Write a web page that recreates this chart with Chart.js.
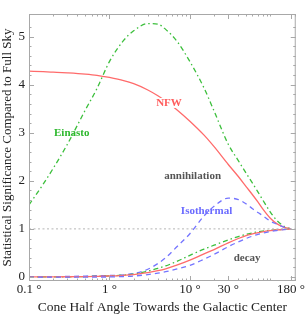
<!DOCTYPE html>
<html>
<head>
<meta charset="utf-8">
<script src="https://cdn.jsdelivr.net/npm/chart.js@4.4.1/dist/chart.umd.min.js"></script>
<style>
  body { margin: 0; background: #fff; }
  canvas { display: block; }
</style>
</head>
<body>
<canvas id="sigChart" width="306" height="317"></canvas>
<script>
// cone half angle (degrees) and significance relative to full sky
const angles = [0.1, 0.15, 0.2, 0.3, 0.5, 0.7, 1, 1.5, 2, 3, 4, 5, 7, 10, 15, 20, 30, 40, 50, 60, 70, 80, 100, 120, 150, 180];

const nfwAnnihilation = [4.28, 4.27, 4.26, 4.245, 4.22, 4.195, 4.15, 4.085, 4.02, 3.89, 3.77, 3.66, 3.47, 3.24, 2.95, 2.71, 2.34, 2.09, 1.88, 1.71, 1.56, 1.42, 1.22, 1.11, 1.03, 1.00];
const einastoAnnihilation = [1.50, 1.93, 2.26, 2.76, 3.47, 3.92, 4.48, 4.92, 5.12, 5.27, 5.26, 5.15, 4.89, 4.48, 3.93, 3.45, 2.76, 2.42, 2.16, 1.95, 1.77, 1.61, 1.35, 1.18, 1.05, 1.00];
const isothermalAnnihilation = [0.0, 0.003, 0.006, 0.01, 0.018, 0.026, 0.03, 0.045, 0.07, 0.16, 0.28, 0.40, 0.64, 0.90, 1.27, 1.47, 1.64, 1.61, 1.52, 1.42, 1.34, 1.28, 1.16, 1.10, 1.03, 1.00];

const nfwDecay = [0, 0.001, 0.002, 0.004, 0.008, 0.012, 0.02, 0.035, 0.05, 0.09, 0.13, 0.17, 0.25, 0.35, 0.48, 0.57, 0.71, 0.80, 0.86, 0.895, 0.92, 0.94, 0.963, 0.977, 0.99, 1.0];
const einastoDecay = [0, 0.001, 0.002, 0.004, 0.008, 0.013, 0.022, 0.04, 0.06, 0.12, 0.18, 0.23, 0.33, 0.45, 0.58, 0.66, 0.77, 0.84, 0.885, 0.915, 0.94, 0.955, 0.97, 0.98, 0.99, 1.0];
const isothermalDecay = [-0.005, -0.005, -0.005, -0.004, -0.003, -0.002, 0.0, 0.01, 0.02, 0.05, 0.08, 0.11, 0.17, 0.24, 0.37, 0.47, 0.63, 0.73, 0.80, 0.85, 0.885, 0.91, 0.945, 0.965, 0.985, 1.0];

const fullSkyLevel = 1;

const xTicks = [0.1, 1, 10, 30, 180];
const xTickLabels = ["0.1 °", "1 °", "10 °", "30 °", "180 °"];
const yTicks = [0, 1, 2, 3, 4, 5];

// text labels placed in data coordinates
const noteTexts = ["NFW", "Einasto", "annihilation", "Isothermal", "decay"];
const noteAngles = [5.5, 0.34, 10.8, 16.1, 51.5];
const noteValues = [3.62, 2.99, 2.09, 1.36, 0.40];
const noteColors = ["#ff5c5c", "#2db82d", "#555555", "#6b6bff", "#555555"];

const red = "#ff6b6b", green = "#3cbf3c", blue = "#7474ff";
const xMin = 0.1, xMax = 207, yMin = -0.084, yMax = 5.47;

function series(vals) {
  return angles.map((a, i) => ({x: a, y: vals[i]}));
}

function line(label, vals, color, dash) {
  return {
    label: label,
    data: series(vals),
    borderColor: color,
    borderWidth: 1.3,
    borderDash: dash,
    pointRadius: 0,
    cubicInterpolationMode: "monotone",
    fill: false
  };
}

const dashDot = [5, 3, 1.5, 3];
const dashed = [5, 4];

// frame with inward ticks on all four sides, and the curve labels
const framePlugin = {
  id: "framePlugin",
  afterDatasetsDraw(chart) {
    const ctx = chart.ctx, a = chart.chartArea;
    const xs = chart.scales.x, ys = chart.scales.y;
    ctx.save();
    ctx.strokeStyle = "#a8a8a8";
    ctx.lineWidth = 1;
    ctx.strokeRect(a.left + 0.5, a.top + 0.5, a.right - a.left - 1, a.bottom - a.top - 1);

    const xMinor = [];
    [0.1, 1, 10, 100].forEach(d => { for (let k = 1; k < 10; k++) xMinor.push(d * k); });
    ctx.beginPath();
    xMinor.forEach(v => {
      if (v < xMin || v > xMax) return;
      const len = xTicks.includes(v) ? 5 : 2.5;
      const px = Math.round(xs.getPixelForValue(v)) + 0.5;
      ctx.moveTo(px, a.bottom); ctx.lineTo(px, a.bottom - len);
      ctx.moveTo(px, a.top); ctx.lineTo(px, a.top + len);
    });
    xTicks.forEach(v => {
      const px = Math.round(xs.getPixelForValue(v)) + 0.5;
      ctx.moveTo(px, a.bottom); ctx.lineTo(px, a.bottom - 5);
      ctx.moveTo(px, a.top); ctx.lineTo(px, a.top + 5);
    });
    for (let v = 0; v <= 5.4; v += 0.2) {
      const major = Math.abs(v - Math.round(v)) < 1e-6;
      const len = major ? 5 : 2.5;
      const py = Math.round(ys.getPixelForValue(v)) + 0.5;
      ctx.moveTo(a.left, py); ctx.lineTo(a.left + len, py);
      ctx.moveTo(a.right, py); ctx.lineTo(a.right - len, py);
    }
    ctx.stroke();

    ctx.font = "bold 11px 'Liberation Serif'";
    ctx.textAlign = "center";
    ctx.textBaseline = "middle";
    noteTexts.forEach((t, i) => {
      const px = xs.getPixelForValue(noteAngles[i]);
      const py = ys.getPixelForValue(noteValues[i]);
      if (t === "NFW") {
        ctx.fillStyle = "#fff";
        const w = ctx.measureText(t).width;
        ctx.fillRect(px - w / 2 - 1, py - 5, w + 2, 10);
      }
      ctx.fillStyle = noteColors[i];
      ctx.fillText(t, px, py);
    });
    ctx.restore();
  }
};

const chartData = {
  type: "line",
  data: {
    datasets: [
      {
        label: "full sky",
        data: [{x: xMin, y: fullSkyLevel}, {x: xMax, y: fullSkyLevel}],
        borderColor: "#b5b5b5",
        borderWidth: 1,
        borderDash: [2, 2.5],
        pointRadius: 0
      },
      line("Isothermal decay", isothermalDecay, blue, dashed),
      line("NFW decay", nfwDecay, red, []),
      line("Einasto decay", einastoDecay, green, dashDot),
      line("Isothermal", isothermalAnnihilation, blue, dashed),
      line("NFW", nfwAnnihilation, red, []),
      line("Einasto", einastoAnnihilation, green, dashDot)
    ]
  },
  options: {
    responsive: false,
    animation: false,
    layout: { padding: { top: 14, right: 9, left: 0, bottom: 0 } },
    plugins: {
      legend: { display: false },
      tooltip: { enabled: false }
    },
    scales: {
      x: {
        type: "logarithmic",
        min: xMin,
        max: xMax,
        afterBuildTicks: s => { s.ticks = xTicks.map(v => ({value: v})); },
        afterFit: s => { s.height = 36; },
        grid: { display: false, drawTicks: false },
        border: { display: false },
        ticks: {
          autoSkip: false,
          maxRotation: 0,
          padding: 1,
          color: "#222",
          font: { family: "'Liberation Serif'", size: 13 },
          callback: v => xTickLabels[xTicks.indexOf(v)] ?? ""
        },
        title: {
          display: true,
          text: "Cone Half Angle Towards the Galactic Center",
          color: "#222",
          font: { family: "'Liberation Serif'", size: 13.5 },
          padding: { top: 0, bottom: 1 }
        }
      },
      y: {
        min: yMin,
        max: yMax,
        afterBuildTicks: s => { s.ticks = yTicks.map(v => ({value: v})); },
        afterFit: s => { s.width = 29; },
        grid: { display: false, drawTicks: false },
        border: { display: false },
        ticks: {
          padding: 4,
          color: "#222",
          font: { family: "'Liberation Serif'", size: 13 },
          callback: v => String(v)
        },
        title: {
          display: true,
          text: "Statistical Significance Compared to Full Sky",
          color: "#222",
          font: { family: "'Liberation Serif'", size: 13 },
          padding: { top: 0, bottom: 0 }
        }
      }
    }
  },
  plugins: [framePlugin]
};

const sigChart = new Chart("sigChart", chartData);
</script>
</body>
</html>
